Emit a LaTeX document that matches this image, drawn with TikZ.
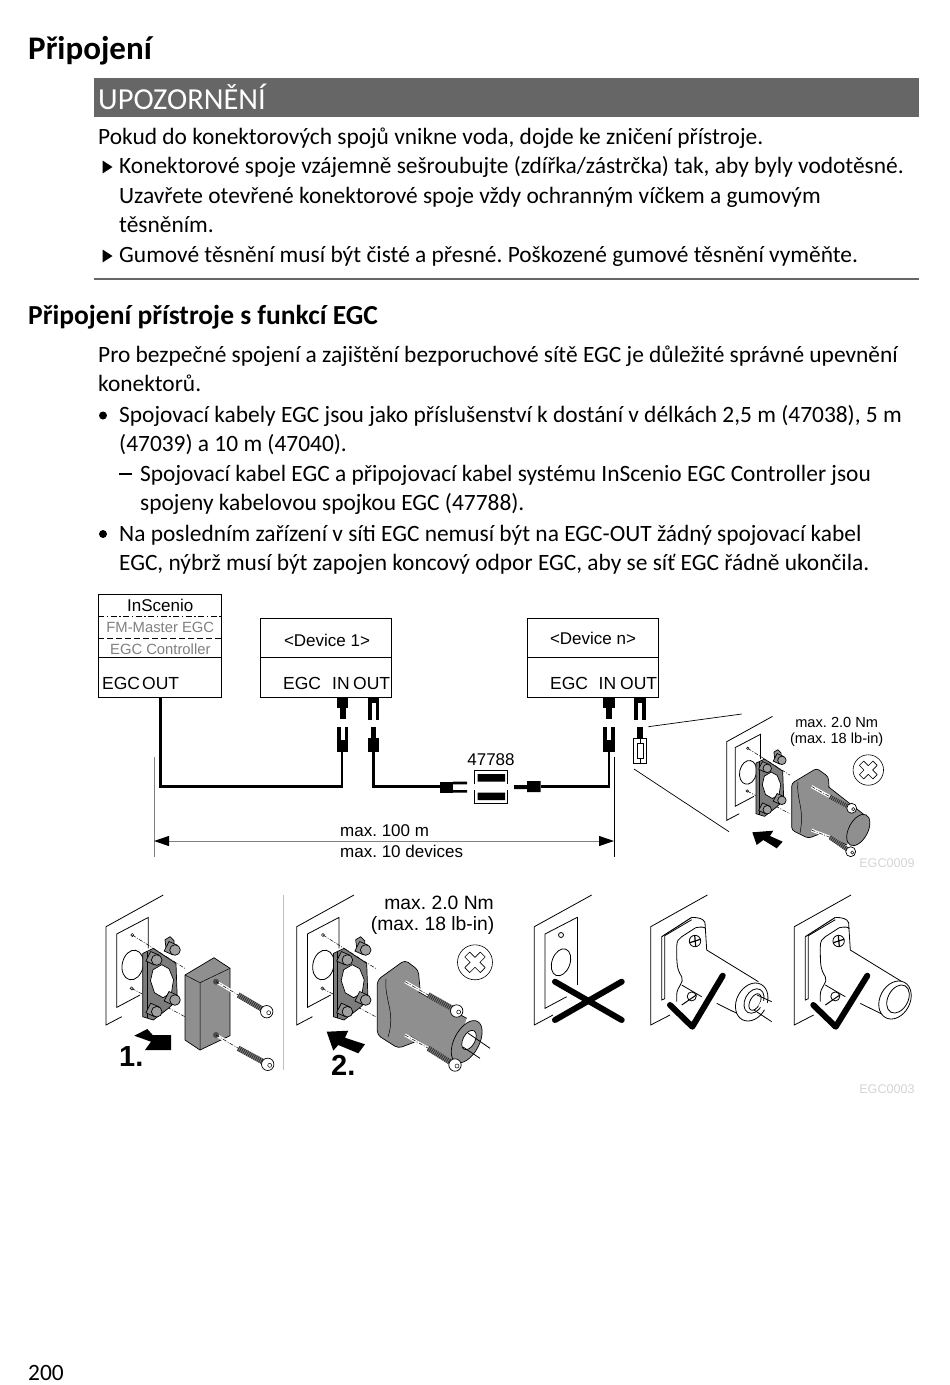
\documentclass[tikz,border=0pt]{standalone}
\usepackage{fontspec}
\setmainfont{Carlito}
\newfontfamily\arialfont{Liberation Sans}
\usetikzlibrary{arrows.meta}
\definecolor{barcolor}{HTML}{666666}
\definecolor{partgrey}{HTML}{8F8F8F}
\definecolor{plategrey}{HTML}{7C7C7C}
\definecolor{labelgrey}{HTML}{808080}
\definecolor{stampgrey}{HTML}{D4D4D4}
\tikzset{
  bodytext/.style={anchor=base west,inner sep=0pt,font=\fontsize{23.4}{26}\selectfont},
  devbox/.style={draw,line width=1pt,inner sep=0pt,minimum width=#1},
  arialtext/.style={inner sep=0pt,font=\arialfont\fontsize{#1}{#1}\selectfont},
  wire/.style={line width=2.6pt,line join=miter},
  dimline/.style={draw=labelgrey,line width=1pt},
  thinline/.style={line width=0.8pt},
  guide/.style={line width=0.5pt,dash pattern=on 4pt off 1.5pt on 1pt off 1.5pt},
  shaft/.style={draw=white,line width=3pt},
  part/.style={draw,line width=0.7pt,fill=partgrey,line join=round},
  bigmark/.style={line width=6pt,line cap=round,line join=round},
}
\newcommand{\pintop}[1]{
  \fill (#1-5.8,697) rectangle (#1+5.8,708);
  \fill (#1-3,708) rectangle (#1+3,719);
}
\newcommand{\socktop}[1]{
  \fill (#1-5.8,697) rectangle (#1+5.8,703);
  \fill (#1-5.8,703) rectangle (#1-2,720);
  \fill (#1+2,703) rectangle (#1+5.8,720);
}
\newcommand{\sockbot}[1]{
  \fill (#1-5.8,740) rectangle (#1+5.8,752);
  \fill (#1-5.8,727) rectangle (#1-2,740);
  \fill (#1+2,727) rectangle (#1+5.8,740);
}
\newcommand{\pinbot}[1]{
  \fill (#1-2.8,727) rectangle (#1+2.8,738);
  \fill (#1-5.8,738) rectangle (#1+5.8,752);
}
% wall with the plate, x y scale
\newcommand{\wallplate}[3]{
  \begin{scope}[shift={(#1,#2)},scale=#3]
    \draw[thinline] (57.3,-31.7) -- (0,0) -- (0,98.3) -- (15.7,90);
    \draw[thinline] (34,68.3) -- (10.7,80.7) -- (10.7,7.3) -- (42.3,-9.3) -- (42.3,21.7);
    \draw[thinline,rotate around={-12:(26.7,38.3)}] (26.7,38.3) ellipse [x radius=10.5,y radius=15];
    \draw[line width=0.5pt] (26.3,8.3) circle (1.6) (25.7,61.7) circle (1.6);
    \draw[guide] (26.3,8.3) -- (79,41.7);
    \draw[guide] (25.7,61.7) -- (79,90);
    \draw[part,fill=plategrey] (36.7,26.7) -- (47.3,21.7) -- (70,36.7) -- (71.3,73.3) -- (62.3,81.7) -- (47.3,93.3) -- (36.7,90) -- cycle;
    \draw[line width=0.5pt] (41,25) -- (41,91);
    \draw[line width=0.7pt,fill=white] (55.7,38) -- (63,42) -- (67.5,53) -- (65.5,66) -- (57,71) -- (48.5,66) -- (44.5,54) -- (47,43) -- cycle;
    \draw[part] (59,13) -- (64,10) -- (68,14) -- (68,22) -- (60,21) -- cycle;
    \foreach \sx/\sy in {69/23.3,50.7/33.3,69/73.3,50.7/85}{
      \draw[part] (\sx-6,\sy-8.5) -- (\sx+2.4,\sy-4.8) -- (\sx-2.4,\sy+4.8) -- (\sx-10.8,\sy+1) -- cycle;
      \draw[part,fill=partgrey!85!white] (\sx,\sy) circle (5.3);
    }
  \end{scope}
}
% sx sy hx hy scale, thread and head of a screw
\newcommand{\screwat}[5]{
  \draw[line width=#5*5.5pt,draw=black!45] (#1,#2) -- (#3,#4);
  \draw[line width=#5*5.5pt,draw=black!80,dash pattern=on 1pt off 1pt] (#1,#2) -- (#3,#4);
  \draw[line width=0.7pt,fill=white] (#3,#4) circle (#5*6.2);
  \draw[line width=0.5pt] (#3+#5*2,#4+#5*1) circle (#5*2);
}
% circled torque symbol
\newcommand{\torquemark}[3]{
  \begin{scope}[shift={(#1,#2)},scale=#3]
    \draw[line width=0.6pt] (0,0) circle (17.5);
    \draw[line width=0.6pt,rotate=45,line join=round] (-3.5,-3.5) -- (-3.5,-11) -- (3.5,-11) -- (3.5,-3.5) -- (11,-3.5) -- (11,3.5) -- (3.5,3.5) -- (3.5,11) -- (-3.5,11) -- (-3.5,3.5) -- (-11,3.5) -- (-11,-3.5) -- cycle;
  \end{scope}
}
% view with the part mounted, x y
\newcommand{\mountview}[2]{
  \begin{scope}[shift={(#1,#2)}]
    \draw[thinline] (56.7,-31.7) -- (0,0) -- (0,98.3) -- (19.3,88.3);
    \fill[white] (11,10) -- (41,-9.3) -- (54.3,-5) -- (56,23.3) -- (107.7,55) -- (91,89) -- (66,76.7) -- (26,75) -- (11,73.3) -- cycle;
    \draw[line width=1pt] (11,10) -- (41,-9.3);
    \draw[thinline] (14,9) -- (41,-7) (11,10) -- (11,73.3) -- (14,72) -- (14,9);
    \draw[thinline] (41,-9.3) .. controls (48,-9.3) and (53,-8) .. (54.3,-4) -- (56,23.3) -- (107.7,55);
    \draw[thinline] (26,75) -- (26,68) .. controls (26,60) and (34,56) .. (31,50) .. controls (26,42) and (26,38) .. (26,20) .. controls (26,14) and (28,12) .. (31,10) -- (45,1) .. controls (50,0) and (54,0) .. (55,2);
    \draw[thinline] (44.3,14.3) circle (5.7);
    \draw[line width=1.2pt] (39,16) -- (50,12.5) (44,9) -- (45,19.5);
    \draw[thinline] (31,58.3) -- (51,70);
    \draw[thinline] (41,69.7) circle (4.5);
    \draw[line width=1pt] (31,78.3) -- (46,68);
    \draw[thinline] (66,76.7) -- (91,89);
  \end{scope}
}
\begin{document}
\frenchspacing
\begin{tikzpicture}[x=1pt,y=-1pt,line cap=butt]
  \useasboundingbox (0,0) rectangle (950,1385);
  % text of the page
  \node[bodytext,font=\bfseries\fontsize{33}{36}\selectfont] (title) at (28,59.5) {Připojení};
  \fill[barcolor] (94,78.3) rectangle (919,117.3);
  \node[bodytext,text=white,font=\fontsize{30.5}{32}\selectfont] (warnhead) at (98,109.5) {UPOZORNĚNÍ};
  \node[bodytext] (warna) at (98,144) {Pokud do konektorových spojů vnikne voda, dojde ke zničení přístroje.};
  \fill (102.5,160.5) -- (112.5,167) -- (102.5,173.5) -- cycle;
  \node[bodytext] (warnb) at (119,173.5) {Konektorové spoje vzájemně sešroubujte (zdířka/zástrčka) tak, aby byly vodotěsné.};
  \node[bodytext] (warnc) at (119,203) {Uzavřete otevřené konektorové spoje vždy ochranným víčkem a gumovým};
  \node[bodytext] (warnd) at (119,232.5) {těsněním.};
  \fill (102.5,249.5) -- (112.5,256) -- (102.5,262.5) -- cycle;
  \node[bodytext] (warne) at (119,262) {Gumové těsnění musí být čisté a přesné. Poškozené gumové těsnění vyměňte.};
  \draw[draw=barcolor,line width=2pt] (94,278.5) -- (919,278.5);
  \node[bodytext,font=\bfseries\fontsize{27.5}{30}\selectfont] (head) at (28,324) {Připojení přístroje s funkcí EGC};
  \node[bodytext] (parta) at (98,362) {Pro bezpečné spojení a zajištění bezporuchové sítě EGC je důležité správné upevnění};
  \node[bodytext] (partb) at (98,391) {konektorů.};
  \fill (103,415.5) circle (4);
  \node[bodytext] (parc) at (119,422.5) {Spojovací kabely EGC jsou jako příslušenství k dostání v délkách 2,5 m (47038), 5 m};
  \node[bodytext] (pard) at (119,451.5) {(47039) a 10 m (47040).};
  \draw[line width=1.5pt] (119,474) -- (132,474);
  \node[bodytext] (pare) at (140,481) {Spojovací kabel EGC a připojovací kabel systému InScenio EGC Controller jsou};
  \node[bodytext] (parf) at (140,510) {spojeny kabelovou spojkou EGC (47788).};
  \fill (103,534) circle (4);
  \node[bodytext] (parg) at (119,541) {Na posledním zařízení v síti EGC nemusí být na EGC-OUT žádný spojovací kabel};
  \node[bodytext] (parh) at (119,570) {EGC, nýbrž musí být zapojen koncový odpor EGC, aby se síť EGC řádně ukončila.};
  \node[bodytext] (pagenum) at (28,1380) {200};

  % devices
  \node[devbox=123,minimum height=103] (ctrl) at (160.3,645.5) {};
  \node[devbox=131,minimum height=79] (devone) at (326.3,657.5) {};
  \node[devbox=131,minimum height=79] (devn) at (592.8,657.5) {};
  \draw[line width=1pt] (ctrl.west |- 0,657.5) -- (ctrl.east |- 0,657.5);
  \draw[line width=1pt] (devone.west) -- (devone.east);
  \draw[line width=1pt] (devn.west) -- (devn.east);
  \draw[line width=0.9pt,dash pattern=on 6pt off 2.5pt on 1.5pt off 2.5pt] (ctrl.west |- 0,616.7) -- (ctrl.east |- 0,616.7);
  \draw[line width=0.9pt,dash pattern=on 6pt off 3pt] (ctrl.west |- 0,638.3) -- (ctrl.east |- 0,638.3);
  \node[arialtext=17] (ctrlname) at (160.3,605) {InScenio};
  \node[arialtext=14.8,text=labelgrey] (ctrlfm) at (160.3,627.7) {FM-Master EGC};
  \node[arialtext=14.8,text=labelgrey] (ctrlegc) at (160.3,649) {EGC Controller};
  \node[arialtext=17.5,anchor=base west] (ctrlport) at (102,689.5) {EGC};
  \node[arialtext=17.5,anchor=base west] (ctrlout) at (142,689.5) {OUT};
  \node[arialtext=17] (onename) at (327,640) {<Device 1>};
  \node[arialtext=17.5,anchor=base west] (oneport) at (283,689.5) {EGC};
  \node[arialtext=17.5,anchor=base west] (onein) at (332,689.5) {IN};
  \node[arialtext=17.5,anchor=base west] (oneout) at (353,689.5) {OUT};
  \node[arialtext=17] (nname) at (593,638) {<Device n>};
  \node[arialtext=17.5,anchor=base west] (nport) at (550,689.5) {EGC};
  \node[arialtext=17.5,anchor=base west] (nin) at (598.5,689.5) {IN};
  \node[arialtext=17.5,anchor=base west] (nout) at (620,689.5) {OUT};

  % plugs at the devices
  \pintop{342.5} \socktop{373.5} \pintop{608.8} \socktop{639.8}
  \sockbot{342.5} \pinbot{373.5} \sockbot{608.8}
  \fill (637,727) rectangle (642.6,738);
  \draw[line width=1pt] (633.5,738) rectangle (646.5,763.3);
  \draw[line width=0.6pt] (637,743.5) rectangle (643,758.5);
  \draw[line width=0.6pt] (640,738) -- (640,743.5) (640,758.5) -- (640,763.3);

  % cables
  \coordinate (wirea) at (342,786.7);
  \coordinate (ina) at (342,752);
  \coordinate (outa) at (373.7,752);
  \coordinate (wireb) at (373.7,786.7);
  \coordinate (plugl) at (440,786.7);
  \coordinate (plugr) at (540.7,786.7);
  \coordinate (wirec) at (608.8,786.7);
  \coordinate (inn) at (608.8,752);
  \draw[wire] (ctrl.south) -- (ctrl.south |- wirea) -- (wirea) -- (ina);
  \draw[wire] (outa) -- (wireb) -- (plugl);
  \draw[wire] (plugr) -- (wirec) -- (inn);

  % coupler
  \node[arialtext=17] (couplenum) at (491,759.5) {47788};
  \fill (440,781.5) rectangle (453,792.7);
  \fill (453,781.5) rectangle (467,784.3) (453,790) rectangle (467,792.7);
  \draw[line width=1pt] (474,784) -- (474,770) -- (507.5,770) -- (507.5,784) (474,790) -- (474,803) -- (507.5,803) -- (507.5,790);
  \fill (477.5,774) rectangle (505,781.5) (477.5,792.5) rectangle (505,800);
  \fill (514,785) rectangle (527,789) (527,781) rectangle (540.7,792);

  % length
  \coordinate (dimleft) at (154,841);
  \coordinate (dimright) at (614,841);
  \draw[dimline] (154,756.7) -- (154,856.7);
  \draw[line width=0.8pt] (614,756.7) -- (614,856.7);
  \draw[dimline,{Triangle[length=15pt,width=10pt,color=black]}-{Triangle[length=15pt,width=10pt,color=black]}] (dimleft) -- (dimright);
  \node[arialtext=17,anchor=base west] (maxlen) at (340,836) {max. 100 m};
  \node[arialtext=17,anchor=base west] (maxdev) at (340,857) {max. 10 devices};

  % detail top right
  \draw[line width=0.7pt] (648.3,726.7) -- (741.7,714);
  \draw[line width=0.7pt] (634,769) -- (729,831.7);
  \wallplate{726.7}{741.7}{0.8}
  \draw[part,rounded corners=3pt] (791.7,783.3) -- (816.7,768.3) -- (828.3,776.7) -- (830,800) -- (822,833) -- (808.3,838.3) -- (791.7,830) -- cycle;
  \fill[partgrey] (828.3,786.7) -- (866.7,816.7) -- (846.7,845) -- (815,830) -- cycle;
  \draw[line width=0.7pt] (828.3,786.7) -- (866.7,816.7) (846.7,845) -- (815,830);
  \draw[part,rotate around={-28:(858.3,830)}] (858.3,830) ellipse [x radius=9.5,y radius=17];
  \draw[line width=0.5pt] (798,782) .. controls (796,800) and (805,808) .. (800,833);
  \draw[shaft] (811.5,786.5) -- (830,796.7) (811.5,830) -- (830,837.3);
  \draw[guide] (811.5,786.5) -- (830,796.7) (811.5,830) -- (830,837.3);
  \screwat{830}{796.7}{851.7}{808.3}{0.8}
  \screwat{830}{837.3}{850.7}{851.7}{0.8}
  \node[arialtext=14.6] (torqa) at (836.7,722.7) {max. 2.0 Nm};
  \node[arialtext=14.6] (torqb) at (836.7,740) {(max. 18 lb-in)};
  \torquemark{868.3}{770}{0.87}
  \fill (752.3,832.3) -- (773.3,830.7) -- (770,836) -- (782.7,841.7) -- (776.7,848.3) -- (763.3,840) -- (756.7,845) -- cycle;
  \node[arialtext=12.6,text=stampgrey] (stampa) at (887,863) {EGC0009};

  % step 1
  \wallplate{106}{926.7}{1}
  \draw[part] (185,975) -- (214,957.7) -- (230,968.3) -- (230,1035.7) -- (200,1050) -- (185,1040) -- cycle;
  \draw[line width=0.5pt] (185,975) -- (200,982.7) -- (230,968.3) (200,982.7) -- (200,1050);
  \draw[shaft] (216,981.7) -- (238.3,995) (216,1035) -- (238.3,1048.3);
  \fill[black!70] (216,981.7) circle (3) (216,1035) circle (3);
  \draw[guide] (216,981.7) -- (238.3,995) (216,1035) -- (238.3,1048.3);
  \screwat{238.3}{995}{266.7}{1011.7}{1}
  \screwat{238.3}{1048.3}{267.7}{1064.3}{1}
  \fill (134.3,1035.7) -- (147.3,1029) -- (152.7,1035) -- (171,1035) -- (171,1050) -- (145,1050) -- (151,1041.7) -- cycle;
  \node[arialtext=29,font=\arialfont\bfseries\fontsize{29}{29}\selectfont,anchor=base west] (stepone) at (119,1066) {1.};
  \draw[draw=black!25,line width=0.8pt] (283.3,895) -- (283.3,1070);

  % step 2
  \wallplate{296.7}{926.7}{1}
  \draw[part,rounded corners=4pt] (377.3,980) -- (405,960) -- (418.3,970) -- (421,1000) -- (420,1040) -- (398.3,1048.3) -- (377.3,1035) -- cycle;
  \fill[partgrey] (418.3,991.7) -- (466.7,1018.3) -- (451.7,1061.7) -- (410,1036) -- cycle;
  \draw[line width=0.7pt] (418.3,991.7) -- (466.7,1018.3) (451.7,1061.7) -- (410,1036);
  \draw[part,rotate around={-28:(466.7,1041.7)}] (466.7,1041.7) ellipse [x radius=12.5,y radius=23];
  \draw[line width=0.7pt,fill=white,rotate around={-28:(469,1040)}] (469,1040) ellipse [x radius=6,y radius=10.5];
  \draw[line width=0.8pt] (468.3,1033.3) -- (490,1048.3) (463,1047) -- (480,1058.3);
  \draw[line width=0.5pt] (386,979) .. controls (384,1000) and (396,1012) .. (388,1037);
  \draw[shaft] (405,981.7) -- (428.3,995) (405,1035) -- (428.3,1048.3);
  \draw[guide] (405,981.7) -- (428.3,995) (405,1035) -- (428.3,1048.3);
  \screwat{428.3}{995}{456.7}{1011}{1}
  \screwat{428.3}{1048.3}{455}{1065}{1}
  \node[arialtext=19.3,anchor=east] (torqc) at (494,903) {max. 2.0 Nm};
  \node[arialtext=19.3,anchor=east] (torqd) at (494.5,925) {(max. 18 lb-in)};
  \torquemark{475}{962.3}{1}
  \fill (326.7,1031.7) -- (348.3,1030.7) -- (345,1037.7) -- (365,1044.3) -- (358.3,1053.3) -- (338.3,1045) -- (333.3,1050.7) -- cycle;
  \node[arialtext=29,font=\arialfont\bfseries\fontsize{29}{29}\selectfont,anchor=base west] (steptwo) at (331,1075) {2.};

  % wrong
  \draw[thinline] (591.7,895) -- (534.3,926.7) -- (534.3,1025) -- (553,1015);
  \draw[thinline] (577.3,917.3) -- (545,934) -- (545,1008.3) -- (566.7,996.7);
  \draw[thinline] (577.3,917.3) -- (577.3,985);
  \draw[thinline] (561,935) circle (2.5);
  \draw[thinline,rotate around={-20:(561,962.3)}] (561,962.3) ellipse [x radius=9,y radius=14];
  \draw[bigmark] (555,981.7) -- (621.7,1020);
  \draw[bigmark] (555,1020) -- (621.7,981.7);

  % right
  \mountview{650.7}{926.7}
  \draw[line width=0.8pt,fill=white,rotate around={-28:(751.7,1002)}] (751.7,1002) ellipse [x radius=15,y radius=20];
  \draw[line width=0.8pt,rotate around={-28:(754,1001)}] (754,1001) ellipse [x radius=9,y radius=13];
  \draw[line width=0.8pt,fill=white,rotate around={-28:(755,1002)}] (755,1002) ellipse [x radius=5,y radius=9];
  \draw[draw=white,line width=7pt] (760,1003) -- (774,1011);
  \draw[thinline] (757,995) -- (771.7,1001.7) (754,1010) -- (771.7,1021.7);
  \draw[bigmark] (670,1005) -- (692.3,1026.7) -- (722.7,975.7);
  \mountview{794.3}{926.7}
  \draw[line width=0.8pt,fill=white,rotate around={-28:(895,1000)}] (895,1000) ellipse [x radius=15,y radius=20];
  \draw[line width=0.8pt,rotate around={-28:(898,999)}] (898,999) ellipse [x radius=10,y radius=15];
  \draw[bigmark] (813.3,1005) -- (835.7,1026.7) -- (867.3,975.7);
  \node[arialtext=12.6,text=stampgrey] (stampb) at (887,1089) {EGC0003};
\end{tikzpicture}
\end{document}
